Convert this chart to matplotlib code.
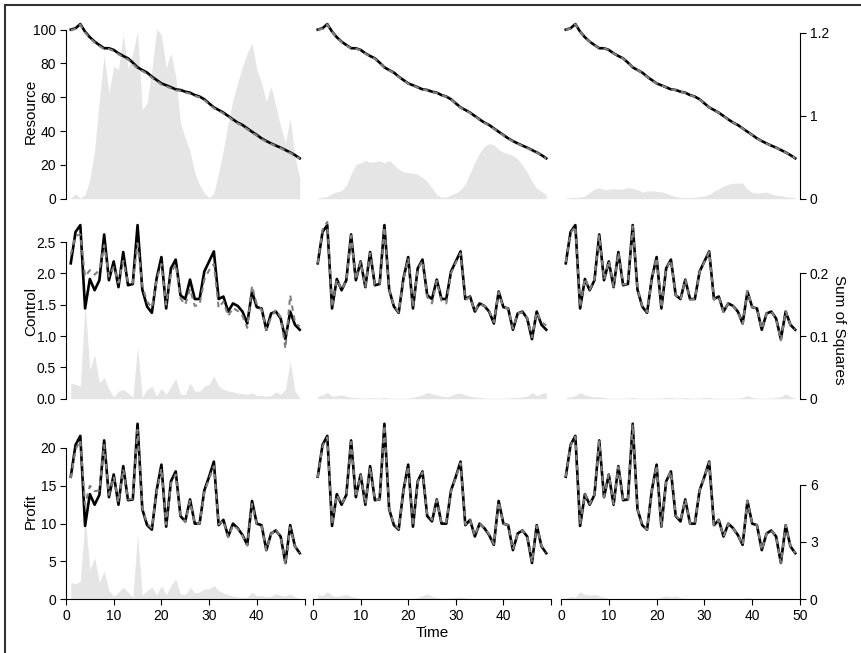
import matplotlib
matplotlib.use("Agg")
import matplotlib.pyplot as plt
from matplotlib.patches import Rectangle
import numpy as np

plt.rcParams['font.family'] = ['Liberation Sans', 'DejaVu Sans']

time = list(range(1, 50))

# true series (black lines, same in every column)
resource_true = [100.0, 100.8, 103.3, 98.8, 95.5, 92.9, 90.9, 89.0, 89.0, 88.0, 86.0, 84.4, 83.0, 80.5, 77.7, 76.1, 74.6,
                 72.2, 70.2, 68.2, 67.1, 65.9, 64.7, 64.3, 63.3, 62.7, 61.3, 60.4, 58.8, 56.4, 54.0, 52.5, 50.9, 48.9,
                 46.9, 45.0, 43.6, 41.6, 39.6, 37.7, 35.7, 34.1, 32.7, 31.4, 30.2, 28.8, 27.4, 25.8, 23.9]
control_true = [2.16, 2.66, 2.77, 1.44, 1.91, 1.73, 1.89, 2.62, 1.89, 2.19, 1.78, 2.34, 1.81, 1.83, 2.77, 1.74, 1.47,
                1.37, 1.92, 2.26, 1.44, 2.08, 2.22, 1.65, 1.59, 1.90, 1.59, 1.59, 2.03, 2.19, 2.35, 1.59, 1.63, 1.39,
                1.52, 1.48, 1.39, 1.20, 1.71, 1.46, 1.44, 1.10, 1.36, 1.39, 1.28, 0.95, 1.39, 1.18, 1.10]
profit_true = [16.2, 20.4, 21.6, 9.7, 13.9, 12.5, 13.8, 21.0, 13.5, 16.5, 12.5, 17.6, 13.1, 13.2, 23.2, 11.9, 9.8, 9.2,
               14.4, 17.8, 9.6, 15.6, 16.9, 11.0, 10.3, 13.2, 10.0, 10.0, 14.4, 16.2, 18.2, 9.8, 10.5, 8.3, 10.0, 9.4,
               8.5, 7.2, 13.0, 10.0, 9.8, 6.5, 8.7, 9.1, 8.3, 4.8, 9.8, 7.0, 6.1]

# estimated series (grey dashed), one per column
resource_est_1 = [99.6, 100.5, 103.0, 98.3, 95.0, 92.4, 90.3, 88.4, 88.5, 87.4, 85.4, 83.8, 82.3, 79.8, 77.0, 75.5, 73.9,
                  71.6, 69.6, 67.6, 66.5, 65.3, 64.1, 63.8, 62.8, 62.1, 60.8, 59.9, 58.3, 55.9, 53.5, 52.0, 50.4, 48.5,
                  46.5, 44.5, 43.1, 41.1, 39.2, 37.3, 35.3, 33.7, 32.4, 31.1, 29.9, 28.5, 27.1, 25.5, 23.7]
resource_est_2 = [99.8, 100.6, 103.1, 98.6, 95.3, 92.7, 90.7, 88.8, 88.8, 87.8, 85.8, 84.2, 82.8, 80.3, 77.5, 75.9, 74.4,
                  72.0, 70.0, 68.0, 66.9, 65.7, 64.5, 64.1, 63.1, 62.5, 61.2, 60.3, 58.7, 56.3, 53.8, 52.3, 50.7, 48.7,
                  46.7, 44.8, 43.4, 41.4, 39.4, 37.5, 35.5, 33.9, 32.5, 31.2, 30.0, 28.6, 27.2, 25.6, 23.8]
resource_est_3 = [99.9, 100.7, 103.2, 98.7, 95.4, 92.8, 90.8, 88.9, 88.9, 87.9, 85.9, 84.3, 82.9, 80.4, 77.6, 76.0, 74.5,
                  72.1, 70.1, 68.1, 67.0, 65.8, 64.6, 64.2, 63.2, 62.6, 61.2, 60.3, 58.7, 56.3, 53.9, 52.4, 50.8, 48.8,
                  46.8, 44.9, 43.5, 41.5, 39.5, 37.6, 35.6, 34.0, 32.6, 31.3, 30.1, 28.7, 27.3, 25.7, 23.9]

control_est_1 = [2.30, 2.60, 2.62, 1.95, 2.05, 1.98, 2.05, 2.45, 1.95, 2.10, 1.85, 2.20, 1.85, 1.85, 2.48, 1.80, 1.55,
                 1.45, 1.90, 2.15, 1.50, 2.00, 2.15, 1.60, 1.50, 1.75, 1.48, 1.50, 1.90, 2.05, 2.15, 1.45, 1.55, 1.32,
                 1.45, 1.40, 1.32, 1.13, 1.80, 1.50, 1.42, 1.10, 1.30, 1.42, 1.30, 0.80, 1.65, 1.22, 1.15]
control_est_2 = [2.16, 2.70, 2.82, 1.46, 1.90, 1.74, 1.88, 2.60, 1.90, 2.18, 1.79, 2.32, 1.82, 1.83, 2.74, 1.75, 1.48,
                 1.38, 1.90, 2.24, 1.46, 2.06, 2.20, 1.62, 1.52, 1.88, 1.56, 1.52, 2.00, 2.17, 2.32, 1.58, 1.62, 1.40,
                 1.51, 1.48, 1.40, 1.22, 1.70, 1.46, 1.44, 1.12, 1.36, 1.38, 1.29, 0.98, 1.38, 1.22, 1.17]
control_est_3 = [2.18, 2.64, 2.75, 1.46, 1.92, 1.74, 1.90, 2.60, 1.90, 2.20, 1.79, 2.33, 1.82, 1.83, 2.75, 1.75, 1.48,
                 1.38, 1.92, 2.25, 1.45, 2.08, 2.21, 1.65, 1.58, 1.90, 1.58, 1.59, 2.02, 2.18, 2.34, 1.58, 1.63, 1.38,
                 1.52, 1.48, 1.38, 1.19, 1.72, 1.46, 1.44, 1.11, 1.36, 1.39, 1.27, 0.93, 1.40, 1.18, 1.10]

profit_est_1 = [16.0, 19.8, 21.0, 12.5, 15.0, 14.3, 14.4, 20.4, 13.8, 16.2, 12.8, 17.2, 13.2, 13.3, 22.4, 12.0, 10.0,
                9.4, 14.2, 17.3, 9.9, 15.3, 16.5, 11.1, 10.2, 13.0, 10.0, 10.0, 14.2, 15.9, 17.6, 9.9, 10.4, 8.2, 9.8,
                9.3, 8.4, 7.1, 12.6, 9.9, 9.7, 6.5, 8.6, 9.3, 8.2, 4.6, 9.5, 7.0, 6.1]
profit_est_2 = [16.1, 20.2, 21.4, 9.9, 13.8, 12.6, 13.7, 20.8, 13.5, 16.4, 12.6, 17.4, 13.1, 13.2, 23.0, 12.0, 9.9, 9.3,
                14.3, 17.6, 9.7, 15.5, 16.8, 11.2, 10.5, 13.1, 10.1, 10.2, 14.3, 16.1, 18.0, 9.9, 10.5, 8.4, 10.0, 9.4,
                8.6, 7.3, 12.9, 10.0, 9.8, 6.6, 8.7, 9.1, 8.3, 4.9, 9.7, 7.1, 6.2]
profit_est_3 = [16.2, 20.3, 21.5, 9.9, 13.9, 12.6, 13.8, 20.9, 13.5, 16.5, 12.6, 17.5, 13.1, 13.2, 23.1, 11.9, 9.8, 9.2,
                14.4, 17.7, 9.6, 15.6, 16.9, 11.1, 10.4, 13.2, 10.0, 10.0, 14.4, 16.2, 18.1, 9.8, 10.5, 8.3, 10.0, 9.4,
                8.5, 7.2, 13.0, 10.0, 9.8, 6.5, 8.7, 9.1, 8.3, 4.8, 9.8, 7.0, 6.1]

# sum of squares (grey areas, right axis)
ss_resource_1 = [0.005, 0.034, 0.005, 0.029, 0.137, 0.354, 0.716, 1.041, 0.764, 0.957, 0.933, 1.186, 0.945, 1.053,
                 1.210, 0.643, 0.692, 0.933, 1.227, 1.186, 0.945, 1.053, 0.884, 0.547, 0.439, 0.342, 0.186, 0.101,
                 0.041, 0.005, 0.041, 0.186, 0.354, 0.547, 0.716, 0.836, 0.957, 1.053, 1.125, 0.933, 0.836, 0.704,
                 0.812, 0.667, 0.523, 0.402, 0.583, 0.306, 0.149]
ss_resource_2 = [0.005, 0.010, 0.017, 0.036, 0.050, 0.058, 0.096, 0.180, 0.246, 0.258, 0.277, 0.263, 0.267, 0.275,
                 0.258, 0.277, 0.246, 0.214, 0.195, 0.188, 0.185, 0.176, 0.154, 0.125, 0.077, 0.031, 0.010, 0.012,
                 0.029, 0.041, 0.065, 0.106, 0.185, 0.265, 0.330, 0.378, 0.398, 0.390, 0.354, 0.337, 0.325, 0.313,
                 0.287, 0.241, 0.193, 0.125, 0.075, 0.053, 0.029]
ss_resource_3 = [0.005, 0.007, 0.010, 0.012, 0.020, 0.045, 0.070, 0.080, 0.065, 0.068, 0.072, 0.068, 0.070, 0.082,
                 0.075, 0.065, 0.048, 0.055, 0.058, 0.052, 0.050, 0.040, 0.025, 0.015, 0.008, 0.007, 0.008, 0.010,
                 0.015, 0.020, 0.030, 0.055, 0.070, 0.090, 0.105, 0.112, 0.113, 0.113, 0.070, 0.045, 0.040, 0.045,
                 0.047, 0.033, 0.026, 0.022, 0.015, 0.010, 0.008]

ss_control_1 = [0.025, 0.023, 0.020, 0.152, 0.046, 0.070, 0.025, 0.034, 0.015, 0.003, 0.012, 0.015, 0.009, 0.002,
                0.083, 0.002, 0.015, 0.020, 0.004, 0.017, 0.007, 0.019, 0.033, 0.007, 0.007, 0.025, 0.012, 0.012,
                0.020, 0.023, 0.036, 0.020, 0.015, 0.012, 0.011, 0.009, 0.008, 0.007, 0.009, 0.005, 0.005, 0.004,
                0.005, 0.011, 0.007, 0.015, 0.060, 0.012, 0.002]
ss_control_2 = [0.004, 0.006, 0.010, 0.004, 0.005, 0.006, 0.004, 0.002, 0.002, 0.001, 0.001, 0.002, 0.001, 0.001,
                0.002, 0.001, 0.001, 0.001, 0.001, 0.001, 0.002, 0.004, 0.006, 0.010, 0.008, 0.006, 0.004, 0.003,
                0.005, 0.008, 0.009, 0.006, 0.004, 0.003, 0.002, 0.001, 0.001, 0.001, 0.001, 0.001, 0.001, 0.002,
                0.002, 0.003, 0.004, 0.010, 0.005, 0.008, 0.010]
ss_control_3 = [0.002, 0.003, 0.005, 0.010, 0.006, 0.004, 0.003, 0.003, 0.002, 0.001, 0.001, 0.001, 0.001, 0.001,
                0.002, 0.001, 0.001, 0.001, 0.001, 0.001, 0.001, 0.002, 0.002, 0.001, 0.001, 0.002, 0.001, 0.001,
                0.001, 0.002, 0.002, 0.001, 0.001, 0.001, 0.001, 0.001, 0.001, 0.002, 0.005, 0.002, 0.001, 0.001,
                0.001, 0.001, 0.002, 0.003, 0.008, 0.003, 0.001]

ss_profit_1 = [0.89, 0.81, 0.93, 4.36, 1.58, 2.18, 0.89, 1.49, 0.46, 0.17, 0.38, 0.63, 0.38, 0.12, 3.38, 0.21, 0.46,
               0.63, 0.24, 0.72, 0.24, 0.72, 1.06, 0.29, 0.24, 0.63, 0.34, 0.38, 0.55, 0.55, 0.72, 0.46, 0.34, 0.24,
               0.17, 0.12, 0.10, 0.12, 0.38, 0.17, 0.21, 0.12, 0.17, 0.29, 0.21, 0.17, 0.29, 0.12, 0.03]
ss_profit_2 = [0.25, 0.20, 0.40, 0.20, 0.15, 0.20, 0.25, 0.15, 0.10, 0.05, 0.04, 0.05, 0.03, 0.03, 0.06, 0.03, 0.03,
               0.02, 0.02, 0.03, 0.05, 0.10, 0.18, 0.28, 0.15, 0.10, 0.06, 0.05, 0.08, 0.10, 0.12, 0.08, 0.05, 0.03,
               0.02, 0.02, 0.01, 0.01, 0.02, 0.02, 0.01, 0.01, 0.01, 0.02, 0.02, 0.03, 0.03, 0.02, 0.02]
ss_profit_3 = [0.05, 0.15, 0.10, 0.40, 0.25, 0.22, 0.25, 0.18, 0.12, 0.05, 0.03, 0.03, 0.02, 0.02, 0.03, 0.02, 0.02,
               0.02, 0.02, 0.03, 0.12, 0.18, 0.12, 0.18, 0.08, 0.05, 0.03, 0.02, 0.02, 0.03, 0.03, 0.02, 0.02, 0.01,
               0.01, 0.01, 0.02, 0.05, 0.10, 0.05, 0.03, 0.02, 0.01, 0.01, 0.02, 0.02, 0.03, 0.02, 0.01]

row_names = ["Resource", "Control", "Profit"]
true_rows = [resource_true, control_true, profit_true]
est_rows = [[resource_est_1, resource_est_2, resource_est_3],
            [control_est_1, control_est_2, control_est_3],
            [profit_est_1, profit_est_2, profit_est_3]]
ss_rows = [[ss_resource_1, ss_resource_2, ss_resource_3],
           [ss_control_1, ss_control_2, ss_control_3],
           [ss_profit_1, ss_profit_2, ss_profit_3]]

left_ticks = [[0, 20, 40, 60, 80, 100], [0, 0.5, 1.0, 1.5, 2.0, 2.5], [0, 5, 10, 15, 20]]
left_labels = [["0", "20", "40", "60", "80", "100"], ["0.0", "0.5", "1.0", "1.5", "2.0", "2.5"],
               ["0", "5", "10", "15", "20"]]
right_ticks = [[0, 0.6, 1.2], [0, 0.1, 0.2], [0, 3, 6]]
right_labels = [["0", "1", "1.2"], ["0", "0.1", "0.2"], ["0", "3", "6"]]
x_ticks = [0, 10, 20, 30, 40, 50]

# layout in pixels
W, H = 862, 653
col_x = [(66, 304.5), (313, 551), (561, 800)]
row_y = [(20, 198.7), (220, 398.7), (420, 599.3)]
ytop_left = [105.7, 2.851, 23.7]
ytop_right = [1.292, 0.2852, 9.38]

def px_rect(l, r, top, bot):
    return [l / W, 1 - bot / H, (r - l) / W, (bot - top) / H]

fig = plt.figure(figsize=(W / 100, H / 100), dpi=100)
fig.patches.append(Rectangle((5 / W, -0.5), 2, 1.5 - 5 / H, transform=fig.transFigure,
                             fill=False, edgecolor="#333333", lw=1.5))

tick_kw = dict(direction="out", length=4.2, width=0.8, labelsize=10, colors="#000000", pad=3)

for i in range(3):
    for j in range(3):
        rect = px_rect(col_x[j][0], col_x[j][1], row_y[i][0], row_y[i][1])
        # sum of squares axes (underneath)
        axf = fig.add_axes(rect)
        axf.fill_between(time, 0, ss_rows[i][j], color="#e5e5e5", lw=0)
        axf.set_xlim(0, 50)
        axf.set_ylim(0, ytop_right[i])
        for s in axf.spines.values():
            s.set_visible(False)
        axf.set_xticks([])
        if j == 2:
            axf.yaxis.tick_right()
            axf.spines["right"].set_visible(True)
            axf.spines["right"].set_bounds(0, right_ticks[i][-1])
            axf.spines["right"].set_linewidth(0.8)
            axf.set_yticks(right_ticks[i])
            axf.set_yticklabels(right_labels[i])
            axf.tick_params(axis="y", **tick_kw)
        else:
            axf.set_yticks([])

        # lines axes (on top)
        ax = fig.add_axes(rect)
        ax.patch.set_alpha(0)
        ax.plot(time, true_rows[i], color="black", lw=1.9, solid_joinstyle="round")
        ax.plot(time, est_rows[i][j], color="#808080", lw=1.5, dashes=(2.6, 2.2))
        ax.set_xlim(0, 50)
        ax.set_ylim(0, ytop_left[i])
        for s in ax.spines.values():
            s.set_visible(False)
        if j == 0:
            ax.spines["left"].set_visible(True)
            ax.spines["left"].set_bounds(0, left_ticks[i][-1])
            ax.spines["left"].set_linewidth(0.8)
            ax.set_yticks(left_ticks[i])
            ax.set_yticklabels(left_labels[i])
            ax.tick_params(axis="y", **tick_kw)
        else:
            ax.set_yticks([])
        if i == 2:
            ax.spines["bottom"].set_visible(True)
            ax.spines["bottom"].set_bounds(0, 50)
            ax.spines["bottom"].set_linewidth(0.8)
            ax.set_xticks(x_ticks)
            labs = [str(v) for v in x_ticks]
            if j < 2:
                labs[-1] = ""
            ax.set_xticklabels(labs)
            ax.tick_params(axis="x", **tick_kw)
        else:
            ax.set_xticks([])

    yc = (row_y[i][0] + row_y[i][1]) / 2 + 2
    fig.text(31 / W, 1 - yc / H, row_names[i], rotation=90, ha="center", va="center", fontsize=11)

fig.text(432 / W, 1 - 633 / H, "Time", ha="center", va="center", fontsize=11)
fig.text(839 / W, 1 - 330 / H, "Sum of Squares", rotation=-90, ha="center", va="center", fontsize=11)

fig.savefig("out.png", dpi=100)
